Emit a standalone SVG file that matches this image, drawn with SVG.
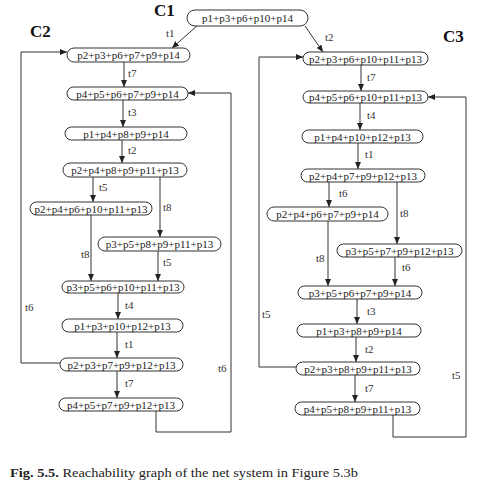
<svg xmlns="http://www.w3.org/2000/svg" width="484" height="500" viewBox="0 0 484 500">
<defs>
<marker id="ah" markerWidth="8" markerHeight="7" refX="7" refY="3" orient="auto" markerUnits="userSpaceOnUse">
<path d="M0,0 L7,3 L0,6 z" fill="#222"/>
</marker>
<style>
.n rect{fill:#fff;stroke:#333;stroke-width:1}
.n text{font-family:"Liberation Serif","Times New Roman",serif;font-size:11px;fill:#222;text-anchor:middle}
.c path{fill:none;stroke:#333;stroke-width:1;marker-end:url(#ah)}
.lb{font-family:"Liberation Serif","Times New Roman",serif;font-size:11px;fill:#333}
.cl{font-family:"Liberation Serif","Times New Roman",serif;font-size:17px;font-weight:bold;fill:#111}
.cap{font-family:"Liberation Serif","Times New Roman",serif;font-size:12px;fill:#222}
</style>
</defs>
<rect width="484" height="500" fill="#fff"/>
<text class="cl" x="154" y="16">C1</text>
<text class="cl" x="30" y="37">C2</text>
<text class="cl" x="443" y="42">C3</text>

<g class="c">
<path d="M198,25 L172,48"/>
<path d="M305,26 L323,52"/>
<path d="M124,62 L124,87"/>
<path d="M123,100 L123,127"/>
<path d="M122,140 L122,163"/>
<path d="M93,177 L93,202"/>
<path d="M160,177 L160,237"/>
<path d="M91,215 L91,281"/>
<path d="M158,251 L158,281"/>
<path d="M118,293 L118,319"/>
<path d="M117,332 L117,358"/>
<path d="M117,371 L117,398"/>
<path d="M60,363 L21,363 L21,52 L67,52"/>
<path d="M156,411 L156,432 L231,432 L231,93 L188,93"/>
<path d="M361,65 L361,91"/>
<path d="M360,103 L360,130"/>
<path d="M358,143 L358,169"/>
<path d="M329,182 L329,207"/>
<path d="M397,182 L397,244"/>
<path d="M328,221 L328,286"/>
<path d="M395,257 L395,286"/>
<path d="M357,299 L357,324"/>
<path d="M356,337 L356,362"/>
<path d="M355,375 L355,402"/>
<path d="M296,367 L259,367 L259,57 L303,57"/>
<path d="M393,415 L393,437 L466,437 L466,97 L428,97"/>
</g>

<g id="labels">
<text class="lb" x="166" y="37">t1</text>
<text class="lb" x="325" y="41">t2</text>
<text class="lb" x="128" y="77">t7</text>
<text class="lb" x="128" y="116">t3</text>
<text class="lb" x="128" y="154">t2</text>
<text class="lb" x="99" y="191">t5</text>
<text class="lb" x="163" y="211">t8</text>
<text class="lb" x="81" y="258">t8</text>
<text class="lb" x="163" y="266">t5</text>
<text class="lb" x="125" y="309">t4</text>
<text class="lb" x="125" y="348">t1</text>
<text class="lb" x="125" y="387">t7</text>
<text class="lb" x="25" y="311">t6</text>
<text class="lb" x="218" y="372">t6</text>
<text class="lb" x="367" y="81">t7</text>
<text class="lb" x="367" y="119">t4</text>
<text class="lb" x="365" y="158">t1</text>
<text class="lb" x="339" y="197">t6</text>
<text class="lb" x="400" y="217">t8</text>
<text class="lb" x="316" y="262">t8</text>
<text class="lb" x="402" y="271">t6</text>
<text class="lb" x="367" y="315">t3</text>
<text class="lb" x="365" y="353">t2</text>
<text class="lb" x="365" y="392">t7</text>
<text class="lb" x="262" y="318">t5</text>
<text class="lb" x="452" y="379">t5</text>
</g>

<g id="T" class="n"><rect x="187" y="10" width="121" height="16" rx="8"/><text x="247.5" y="22">p1+p3+p6+p10+p14</text></g>

<g id="N1" class="n"><rect x="67" y="48" width="123" height="14" rx="7"/><text x="128.5" y="59">p2+p3+p6+p7+p9+p14</text></g>
<g id="N2" class="n"><rect x="67" y="87" width="121" height="13" rx="6.5"/><text x="127.5" y="97.5">p4+p5+p6+p7+p9+p14</text></g>
<g id="N3" class="n"><rect x="65" y="127" width="122" height="13" rx="6.5"/><text x="126" y="137.5">p1+p4+p8+p9+p14</text></g>
<g id="N4" class="n"><rect x="63" y="163" width="124" height="14" rx="7"/><text x="125" y="174">p2+p4+p8+p9+p11+p13</text></g>
<g id="N5" class="n"><rect x="30" y="202" width="122" height="13" rx="6.5"/><text x="91" y="212.5">p2+p4+p6+p10+p11+p13</text></g>
<g id="N6" class="n"><rect x="98" y="237" width="123" height="14" rx="7"/><text x="159.5" y="248">p3+p5+p8+p9+p11+p13</text></g>
<g id="N7" class="n"><rect x="62" y="281" width="122" height="12" rx="6"/><text x="123" y="291">p3+p5+p6+p10+p11+p13</text></g>
<g id="N8" class="n"><rect x="62" y="319" width="121" height="13" rx="6.5"/><text x="122.5" y="329.5">p1+p3+p10+p12+p13</text></g>
<g id="N9" class="n"><rect x="60" y="358" width="123" height="13" rx="6.5"/><text x="121.5" y="368.5">p2+p3+p7+p9+p12+p13</text></g>
<g id="N10" class="n"><rect x="59" y="398" width="124" height="13" rx="6.5"/><text x="121" y="408.5">p4+p5+p7+p9+p12+p13</text></g>

<g id="M1" class="n"><rect x="303" y="52" width="125" height="13" rx="6.5"/><text x="365.5" y="62.5">p2+p3+p6+p10+p11+p13</text></g>
<g id="M2" class="n"><rect x="303" y="91" width="125" height="12" rx="6"/><text x="365.5" y="101">p4+p5+p6+p10+p11+p13</text></g>
<g id="M3" class="n"><rect x="302" y="130" width="121" height="13" rx="6.5"/><text x="362.5" y="140.5">p1+p4+p10+p12+p13</text></g>
<g id="M4" class="n"><rect x="301" y="169" width="124" height="13" rx="6.5"/><text x="363" y="179.5">p2+p4+p7+p9+p12+p13</text></g>
<g id="M5" class="n"><rect x="267" y="207" width="121" height="14" rx="7"/><text x="327.5" y="218">p2+p4+p6+p7+p9+p14</text></g>
<g id="M6" class="n"><rect x="337" y="244" width="125" height="13" rx="6.5"/><text x="399.5" y="254.5">p3+p5+p7+p9+p12+p13</text></g>
<g id="M7" class="n"><rect x="298" y="286" width="124" height="13" rx="6.5"/><text x="360" y="296.5">p3+p5+p6+p7+p9+p14</text></g>
<g id="M8" class="n"><rect x="297" y="324" width="124" height="13" rx="6.5"/><text x="359" y="334.5">p1+p3+p8+p9+p14</text></g>
<g id="M9" class="n"><rect x="296" y="362" width="124" height="13" rx="6.5"/><text x="358" y="372.5">p2+p3+p8+p9+p11+p13</text></g>
<g id="M10" class="n"><rect x="295" y="402" width="125" height="13" rx="6.5"/><text x="357.5" y="412.5">p4+p5+p8+p9+p11+p13</text></g>

<text class="cap" x="10" y="477" textLength="348" lengthAdjust="spacingAndGlyphs"><tspan font-weight="bold">Fig. 5.5.</tspan> Reachability graph of the net system in Figure 5.3b</text>
</svg>
